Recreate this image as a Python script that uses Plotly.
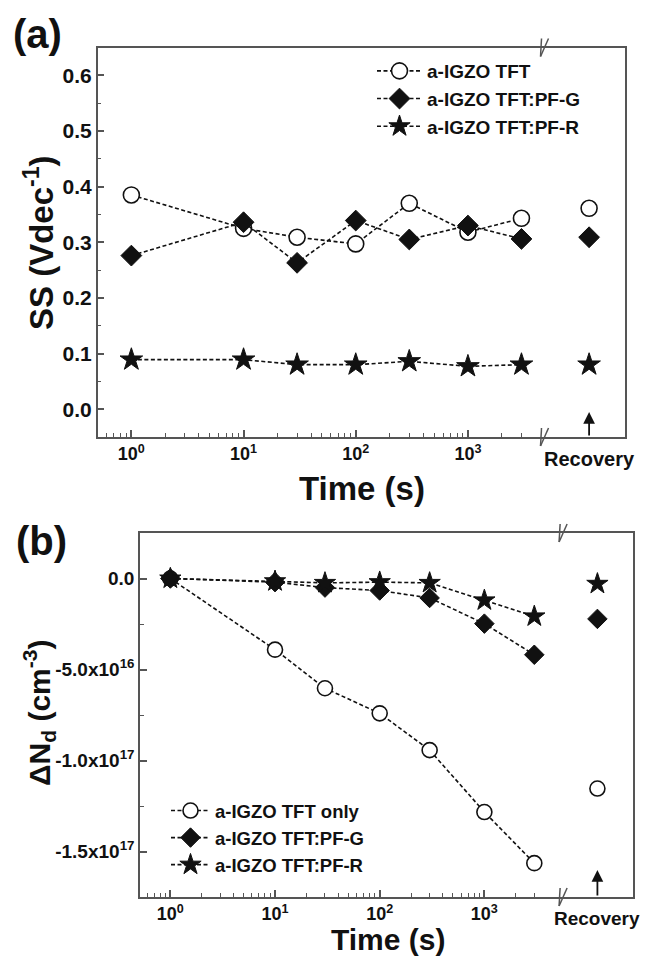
import numpy as np
import plotly.graph_objects as go

# ---------------- data ----------------
times = [1, 10, 30, 100, 300, 1000, 3000]

# (a) subthreshold swing SS (V/dec)
ss_tft = [0.385, 0.325, 0.309, 0.297, 0.370, 0.318, 0.343]
ss_pfg = [0.276, 0.336, 0.263, 0.339, 0.305, 0.330, 0.306]
ss_pfr = [0.089, 0.089, 0.080, 0.080, 0.086, 0.077, 0.080]
ss_rec = {"tft": 0.361, "pfg": 0.309, "pfr": 0.080}

# (b) change of donor concentration ΔNd (cm^-3)
nd_tft = [0.0, -3.91e16, -6.03e16, -7.41e16, -9.43e16, -1.283e17, -1.564e17]
nd_pfg = [0.0, -2.0e15, -5.0e15, -6.6e15, -1.07e16, -2.48e16, -4.19e16]
nd_pfr = [0.0, -1.5e15, -2.4e15, -2.0e15, -2.4e15, -1.2e16, -2.08e16]
nd_rec = {"tft": -1.154e17, "pfg": -2.22e16, "pfr": -2.9e15}

names_a = ["a-IGZO TFT", "a-IGZO TFT:PF-G", "a-IGZO TFT:PF-R"]
names_b = ["a-IGZO TFT only", "a-IGZO TFT:PF-G", "a-IGZO TFT:PF-R"]

xtick_vals = [1, 10, 100, 1000]
xtick_text = ["10<sup>0</sup>", "10<sup>1</sup>", "10<sup>2</sup>", "10<sup>3</sup>"]
ss_tick_vals = [0.0, 0.1, 0.2, 0.3, 0.4, 0.5, 0.6]
nd_tick_vals = [0.0, -5e16, -1e17, -1.5e17]
nd_tick_text = ["0.0", "-5.0x10<sup>16</sup>", "-1.0x10<sup>17</sup>", "-1.5x10<sup>17</sup>"]

# axis slot where the "Recovery" measurement is shown (after the axis break)
RECOVERY_X = 10 ** 4.08

# ---------------- style ----------------
FONT = "Liberation Sans, Arial, sans-serif"
INK = "#111111"
FRAME = "#555555"
W, H = 652, 960

DASH = "4px,2.5px"


def mk(i, s):
    if i == 0:
        return dict(symbol="circle", size=s, color="white", line=dict(color=INK, width=1.6))
    if i == 1:
        return dict(symbol="diamond", size=s, color=INK, line=dict(color=INK, width=1))
    return dict(symbol="star", size=s + 1, color=INK, line=dict(color=INK, width=1))


fig = go.Figure()


def add_panel(ys, rec, names, xa, ya, legend, msize):
    keys = ["tft", "pfg", "pfr"]
    for i, (y, name) in enumerate(zip(ys, names)):
        fig.add_trace(go.Scatter(
            x=times, y=y, name=name, mode="lines+markers",
            line=dict(color=INK, width=1.6, dash=DASH),
            marker=mk(i, msize), xaxis=xa, yaxis=ya, legend=legend))
        fig.add_trace(go.Scatter(
            x=[RECOVERY_X], y=[rec[keys[i]]], mode="markers", showlegend=False,
            marker=mk(i, msize), xaxis=xa, yaxis=ya, legend=legend))


add_panel([ss_tft, ss_pfg, ss_pfr], ss_rec, names_a, "x", "y", "legend", 16)
add_panel([nd_tft, nd_pfg, nd_pfr], nd_rec, names_b, "x2", "y2", "legend2", 15)


def px_x(a, b):
    return [a / W, b / W]


def px_y(top, bot):
    return [1 - bot / H, 1 - top / H]


axis_common = dict(showline=True, linecolor=FRAME, linewidth=1.5, mirror=True,
                   ticks="inside", tickcolor=FRAME, tickwidth=1.5, showgrid=False,
                   zeroline=False, automargin=False)


def xaxis(rng, dom, anchor):
    minor_x = [v * 10 ** k for k in range(-1, 4) for v in range(2, 10)
               if 10 ** rng[0] <= v * 10 ** k <= 3000]
    return dict(axis_common, type="log", range=rng, tickvals=xtick_vals,
                ticktext=xtick_text, ticklen=7, domain=dom, anchor=anchor,
                tickfont=dict(family=FONT, size=18, weight="bold"),
                minor=dict(tickvals=minor_x, ticks="inside", ticklen=4,
                           tickcolor=FRAME, tickwidth=1.2))


fig.update_layout(
    width=W, height=H, margin=dict(l=0, r=0, t=0, b=0),
    paper_bgcolor="white", plot_bgcolor="white",
    font=dict(family=FONT, color=INK),
    xaxis=xaxis([-0.3, 4.40], px_x(97.7, 625), "y"),
    yaxis=dict(axis_common, domain=px_y(47.5, 437), anchor="x", range=[-0.05, 0.65],
               tickvals=ss_tick_vals, tickformat=".1f",
               ticklen=7, tickfont=dict(family=FONT, size=21, weight="bold"),
               minor=dict(dtick=0.05, tick0=0.05, ticks="inside", ticklen=4,
                          tickcolor=FRAME, tickwidth=1.2)),
    xaxis2=xaxis([-0.29, 4.42], px_x(140, 633), "y2"),
    yaxis2=dict(axis_common, domain=px_y(533, 897), anchor="x2",
                range=[-1.75e17, 2.5e16], tickvals=nd_tick_vals, ticktext=nd_tick_text,
                ticklen=7, tickfont=dict(family=FONT, size=19, weight="bold"),
                minor=dict(tickvals=[2.5e16, -2.5e16, -7.5e16, -1.25e17], ticks="inside",
                           ticklen=4, tickcolor=FRAME, tickwidth=1.2)),
    legend=dict(x=372 / W, y=1 - 52 / H, xanchor="left", yanchor="top",
                bgcolor="rgba(0,0,0,0)", font=dict(family=FONT, size=19, weight="bold"),
                tracegroupgap=0, itemwidth=45),
    legend2=dict(x=166 / W, y=1 - 792 / H, xanchor="left", yanchor="top",
                 bgcolor="rgba(0,0,0,0)", font=dict(family=FONT, size=18.5, weight="bold"),
                 tracegroupgap=0, itemwidth=39),
    showlegend=True,
)

annos = [
    dict(text="<b>(a)</b>", x=11 / W, y=1 - 34 / H, xanchor="left", yanchor="middle",
         font=dict(size=40)),
    dict(text="<b>(b)</b>", x=14 / W, y=1 - 541 / H, xanchor="left", yanchor="middle",
         font=dict(size=40)),
    dict(text="<b>SS (Vdec<sup>-1</sup>)</b>", textangle=-90, x=39 / W, y=1 - 243 / H,
         xanchor="center", yanchor="middle", font=dict(size=33)),
    dict(text="<b>ΔN<sub>d</sub> (cm<sup>-3</sup>)</b>", textangle=-90, x=39 / W,
         y=1 - 713 / H, xanchor="center", yanchor="middle", font=dict(size=30)),
    dict(text="<b>Time (s)</b>", x=362 / W, y=1 - 488 / H, xanchor="center",
         yanchor="middle", font=dict(size=33)),
    dict(text="<b>Time (s)</b>", x=388 / W, y=1 - 939 / H, xanchor="center",
         yanchor="middle", font=dict(size=30)),
]
for xa, ya, tip, dh, fs in [("x", "y", 25, 389.5, 20), ("x2", "y2", 27, 364, 19)]:
    annos.append(dict(text="<b>Recovery</b>", x=np.log10(RECOVERY_X), xref=xa, y=0,
                      yref=f"{ya} domain", xanchor="center", yanchor="top", yshift=-9,
                      font=dict(size=fs)))
    annos.append(dict(x=np.log10(RECOVERY_X), xref=xa, y=tip / dh, yref=f"{ya} domain",
                      ax=0, ay=tip, showarrow=True, arrowhead=2, arrowsize=1.3,
                      arrowwidth=1.8, arrowcolor=INK, text=""))
for a in annos:
    a.setdefault("showarrow", False)
    if "xref" not in a:
        a["xref"] = "paper"
        a["yref"] = "paper"
fig.update_layout(annotations=annos)

# axis-break marks "//" on top and bottom frame lines
shapes = []
for xa, ya, brk in [("x", "y", 10 ** 3.647), ("x2", "y2", 10 ** 3.714)]:
    for yd in (0, 1):
        for off in (-3.5, 3.5):
            shapes.append(dict(type="line", xref=xa, yref=f"{ya} domain",
                               xsizemode="pixel", ysizemode="pixel",
                               xanchor=brk, yanchor=yd,
                               x0=off - 4.5, x1=off + 4.5, y0=-9, y1=9,
                               line=dict(color=FRAME, width=1.5)))
fig.update_layout(shapes=shapes)

fig.write_html("out.html",
               config={"displayModeBar": False},
               post_script="document.body.style.margin='0';"
                           "document.body.style.overflow='hidden';")
